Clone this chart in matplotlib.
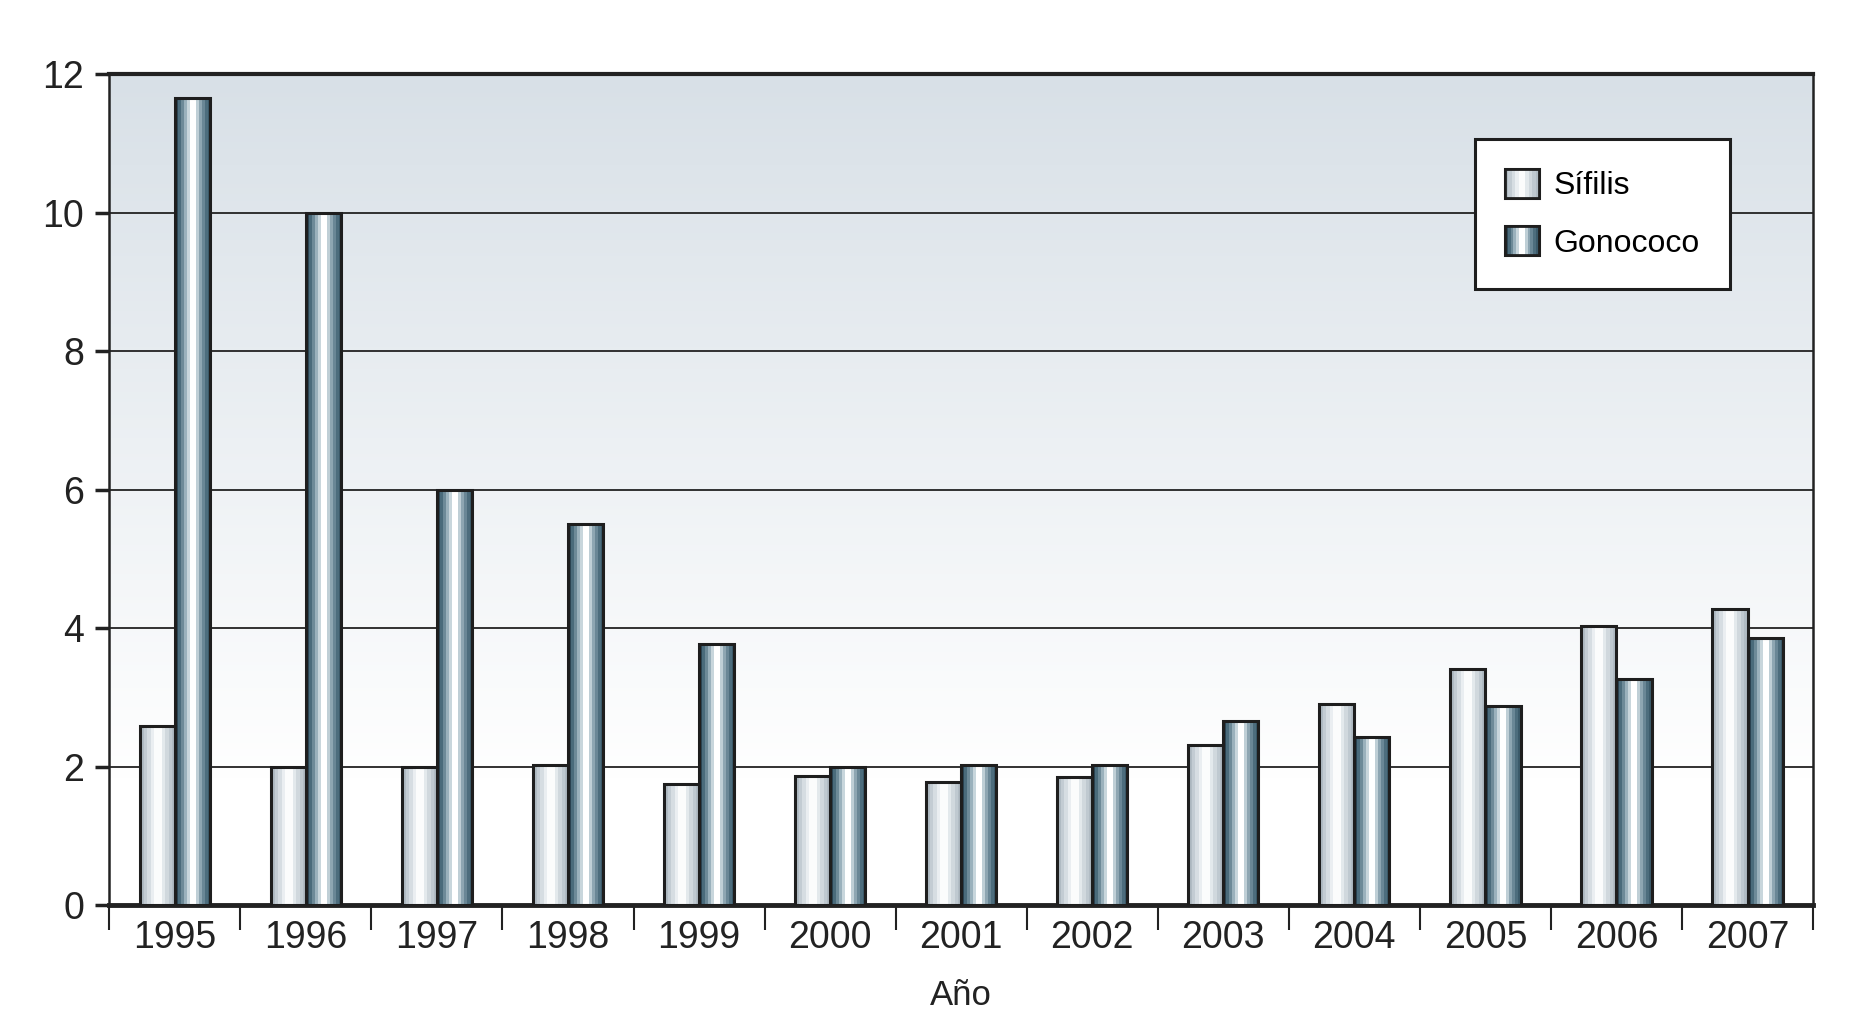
import numpy as np
import matplotlib
matplotlib.use('Agg')
import matplotlib.pyplot as plt
from matplotlib.colors import to_rgb

plt.rcParams['font.family'] = ['Liberation Sans', 'DejaVu Sans']

years = ['1995', '1996', '1997', '1998', '1999', '2000', '2001',
         '2002', '2003', '2004', '2005', '2006', '2007']
sifilis = [2.59, 2.0, 2.0, 2.02, 1.75, 1.87, 1.77, 1.85, 2.31, 2.91, 3.41, 4.03, 4.27]
gonococo = [11.66, 10.0, 6.0, 5.5, 3.77, 2.0, 2.02, 2.02, 2.66, 2.43, 2.88, 3.27, 3.86]

# banded "cylinder" shading for the bars
sif_cols = ['#b0bbc3', '#c3ccd3', '#d6dde2', '#eaeef1', '#fbfcfc', '#fbfcfc',
            '#e3e9ec', '#d0d8dd', '#bfc9d0', '#b1bcc4']
gon_cols = ['#2b4553', '#4a6b7b', '#6d8a98', '#9ab1bc', '#c8d6dc', '#ffffff',
            '#ffffff', '#bfcfd6', '#8ea6b2', '#6a8796', '#4d6d7d', '#3b5a6a']

def grad(cols):
    return np.array([[to_rgb(c) for c in cols]])

fig = plt.figure(figsize=(18.62, 10.29), dpi=100)
ax = fig.add_axes([0.0587, 0.1205, 0.915, 0.8075])

# background gradient: pale blue-grey on top fading to white
t = np.linspace(0, 1, 256)[:, None]
top = np.array(to_rgb('#d8e0e7'))
bot = np.array([1.0, 1.0, 1.0])
frac = np.clip(t / 0.85, 0, 1)
bgimg = (top * (1 - frac) + bot * frac)[:, None, :]
ax.imshow(bgimg, extent=[-0.5, 12.5, 0, 12], origin='upper', aspect='auto', zorder=0)

for y in range(2, 12, 2):
    ax.axhline(y, color='#222222', lw=1.3, zorder=1)

x = np.arange(len(years))
w = 0.268
b1 = ax.bar(x - w / 2, sifilis, w, facecolor='none', edgecolor='#1e1e1e', lw=2.2, zorder=4)
b2 = ax.bar(x + w / 2, gonococo, w, facecolor='none', edgecolor='#1e1e1e', lw=2.2, zorder=4)

for bars, cols in [(b1, sif_cols), (b2, gon_cols)]:
    img = grad(cols)
    for r in bars:
        x0, y0 = r.get_x(), r.get_y()
        ax.imshow(img, extent=[x0, x0 + r.get_width(), y0, y0 + r.get_height()],
                  aspect='auto', interpolation='nearest', zorder=3)

ax.set_xlim(-0.5, len(years) - 0.5)
ax.set_ylim(0, 12)

ax.set_yticks(range(0, 13, 2))
ax.tick_params(axis='y', length=10, width=2.5, color='#222222', labelsize=27,
               labelcolor='#222222', pad=8)
ax.set_xticks(x)
ax.set_xticklabels(years)
ax.tick_params(axis='x', length=0, labelsize=27, labelcolor='#222222', pad=11)
ax.set_xticks(np.arange(-0.5, len(years), 1), minor=True)
ax.tick_params(axis='x', which='minor', length=18, width=1.5, color='#222222')

for s in ['top', 'right', 'left']:
    ax.spines[s].set_linewidth(1.8)
    ax.spines[s].set_color('#222222')
ax.spines['top'].set_linewidth(3)
ax.spines['bottom'].set_linewidth(3.5)
ax.spines['bottom'].set_color('#222222')

ax.set_xlabel('Año', fontsize=25, color='#222222', labelpad=16)

leg = ax.legend([b1, b2], ['Sífilis', 'Gonococo'], loc='upper left',
                bbox_to_anchor=(0.8015, 0.922), fontsize=23, frameon=True,
                fancybox=False, framealpha=1, handlelength=1.05,
                handleheight=1.0, borderpad=0.95, labelspacing=0.78,
                handletextpad=0.45, borderaxespad=0)
leg.get_frame().set_linewidth(2.2)
leg.get_frame().set_edgecolor('#1e1e1e')
leg.get_frame().set_facecolor('white')
leg.set_zorder(10)

# put the shaded swatches over the legend handles
fig.canvas.draw()
for patch, cols in zip(leg.get_patches(), [sif_cols, gon_cols]):
    bb = patch.get_window_extent().transformed(fig.transFigure.inverted())
    hax = fig.add_axes([bb.x0, bb.y0, bb.width, bb.height])
    hax.imshow(grad(cols), aspect='auto', interpolation='nearest')
    hax.set_xticks([])
    hax.set_yticks([])
    for s in hax.spines.values():
        s.set_linewidth(2)
        s.set_color('#1e1e1e')

fig.savefig('out.png', dpi=100)
